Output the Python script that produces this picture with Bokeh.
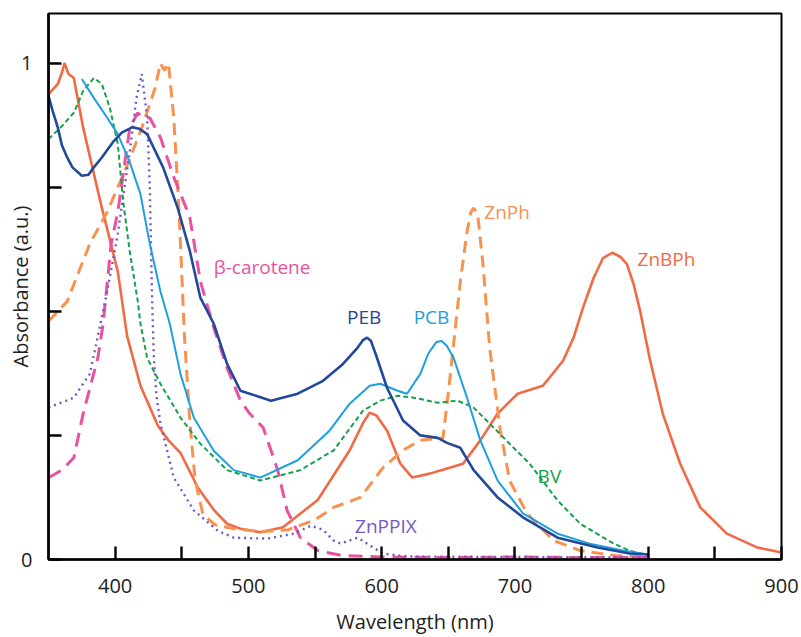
from bokeh.plotting import figure
from bokeh.models import Range1d, FixedTicker, Label
from bokeh.embed import file_html
from bokeh.resources import INLINE

# ---------------- data ----------------
znbph_x = [350, 357, 360, 362, 365, 369, 376, 389, 402, 409, 419, 432, 440, 449, 462, 474, 484, 494,
           509, 526, 552, 576, 586, 591, 596, 604, 614, 623, 636, 651, 661, 674, 687, 702, 721, 736,
           744, 751, 759, 766, 773, 779, 784, 789, 794, 801, 811, 824, 839, 859, 882, 900]
znbph_y = [0.937, 0.958, 0.98, 1.0, 0.978, 0.97, 0.87, 0.72, 0.58, 0.45, 0.35, 0.27, 0.24, 0.215,
           0.145, 0.1, 0.072, 0.062, 0.055, 0.065, 0.12, 0.22, 0.275, 0.296, 0.29, 0.26, 0.193,
           0.165, 0.173, 0.185, 0.193, 0.24, 0.294, 0.334, 0.35, 0.40, 0.447, 0.507, 0.567, 0.607,
           0.618, 0.61, 0.595, 0.555, 0.50, 0.406, 0.293, 0.193, 0.105, 0.052, 0.024, 0.014]

znph_x = [350, 364, 381, 394, 410, 420, 430, 434, 437, 440, 444, 448, 452, 456, 460, 466, 475, 489,
          510, 530, 550, 564, 584, 601, 616, 629, 646, 651, 659, 664, 667, 669, 672, 676, 681, 689,
          696, 709, 729, 749, 775, 800]
znph_y = [0.48, 0.52, 0.636, 0.70, 0.80, 0.87, 0.95, 1.0, 0.985, 1.0, 0.89, 0.70, 0.45, 0.28, 0.16,
          0.09, 0.07, 0.062, 0.056, 0.06, 0.08, 0.105, 0.125, 0.185, 0.22, 0.24, 0.245, 0.36, 0.56,
          0.66, 0.70, 0.708, 0.696, 0.595, 0.427, 0.26, 0.159, 0.093, 0.038, 0.018, 0.008, 0.005]

carotene_x = [350, 360, 369, 376, 387, 391, 397, 402, 411, 417, 421, 426, 434, 444, 456, 464, 474,
              484, 494, 501, 511, 522, 529, 539, 552, 570, 600, 650, 700, 750, 800]
carotene_y = [0.165, 0.18, 0.205, 0.294, 0.406, 0.475, 0.636, 0.70, 0.87, 0.90, 0.89, 0.89, 0.85,
              0.77, 0.69, 0.56, 0.467, 0.386, 0.32, 0.294, 0.266, 0.18, 0.099, 0.044, 0.018, 0.008,
              0.005, 0.004, 0.005, 0.004, 0.004]

znppix_x = [350, 369, 381, 389, 394, 402, 411, 416, 420, 424, 426, 427.5, 429, 431, 434, 444, 459,
            477, 489, 514, 534, 547, 556, 564, 569, 582, 589, 601, 620, 700, 800]
znppix_y = [0.306, 0.326, 0.374, 0.475, 0.54, 0.656, 0.823, 0.93, 0.978, 0.89, 0.75, 0.55, 0.41,
            0.33, 0.274, 0.165, 0.099, 0.058, 0.044, 0.042, 0.052, 0.068, 0.06, 0.038, 0.032, 0.044,
            0.032, 0.012, 0.006, 0.005, 0.004]

bv_x = [350, 359, 369, 376, 384, 390, 396, 402, 406, 411, 417, 419, 424, 434, 449, 464, 484, 509,
        539, 564, 586, 599, 612, 624, 642, 657, 669, 681, 699, 711, 732, 749, 774, 786, 800]
bv_y = [0.847, 0.87, 0.90, 0.944, 0.97, 0.958, 0.91, 0.837, 0.722, 0.62, 0.52, 0.475, 0.406, 0.354,
        0.286, 0.233, 0.18, 0.159, 0.18, 0.22, 0.30, 0.32, 0.33, 0.326, 0.316, 0.32, 0.306, 0.274,
        0.225, 0.193, 0.119, 0.072, 0.032, 0.018, 0.008]

pcb_x = [375, 384, 394, 402, 411, 419, 426, 434, 441, 449, 459, 474, 489, 509, 537, 561, 576, 591,
         599, 612, 619, 629, 635, 641, 645, 649, 654, 664, 674, 687, 706, 732, 756, 781, 800]
pcb_y = [0.968, 0.93, 0.89, 0.857, 0.80, 0.736, 0.636, 0.54, 0.475, 0.374, 0.286, 0.219, 0.18,
         0.165, 0.2, 0.26, 0.314, 0.35, 0.354, 0.34, 0.334, 0.374, 0.415, 0.438, 0.44, 0.43, 0.406,
         0.326, 0.24, 0.159, 0.093, 0.052, 0.032, 0.018, 0.01]

peb_x = [350, 353, 357, 360, 364, 368, 375, 380, 384, 390, 399, 405, 413, 418, 424, 436, 447, 456,
         464, 474, 484, 494, 501, 517, 537, 556, 571, 582, 586, 589, 592, 596, 604, 616, 629, 642,
         649, 659, 669, 687, 706, 732, 762, 786, 800]
peb_y = [0.934, 0.905, 0.87, 0.835, 0.81, 0.79, 0.773, 0.775, 0.79, 0.81, 0.843, 0.86, 0.871, 0.868,
         0.857, 0.79, 0.708, 0.622, 0.527, 0.475, 0.394, 0.34, 0.334, 0.32, 0.334, 0.36, 0.394,
         0.427, 0.442, 0.447, 0.44, 0.41, 0.346, 0.28, 0.25, 0.245, 0.235, 0.225, 0.18, 0.125,
         0.085, 0.044, 0.024, 0.012, 0.01]

x_ticks = [400, 500, 600, 700, 800, 900]
x_minor = [450, 550, 650, 750, 850]
y_ticks = [0, 1]
y_minor = [0.25, 0.5, 0.75]

series_names = ["ZnBPh", "ZnPh", "β-carotene", "ZnPPIX", "BV", "PCB", "PEB"]
label_x = [792, 677, 474, 580, 717, 624, 574]
label_y = [0.606, 0.70, 0.59, 0.068, 0.169, 0.489, 0.489]

# ---------------- styling ----------------
C_ZNBPH = "#f26a45"
C_ZNPH = "#f7924f"
C_CAR = "#e9529e"
C_PPIX = "#7557c4"
C_BV = "#17a04c"
C_PCB = "#1ea0e0"
C_PEB = "#22489b"
FONT = "Open Sans"

p = figure(width=801, height=637, output_backend="svg", toolbar_location=None,
           x_range=Range1d(350, 900), y_range=Range1d(0, 1.1),
           min_border_left=48, min_border_right=20, min_border_top=13, min_border_bottom=78)
p.background_fill_color = "white"
p.border_fill_color = "white"
p.outline_line_color = "black"
p.outline_line_width = 2
p.grid.visible = False

p.line(znbph_x, znbph_y, line_color=C_ZNBPH, line_width=2.6)
p.line(znph_x, znph_y, line_color=C_ZNPH, line_width=3, line_dash="12 7")
p.line(carotene_x, carotene_y, line_color=C_CAR, line_width=3, line_dash="14 8")
p.line(znppix_x, znppix_y, line_color=C_PPIX, line_width=2.4, line_dash="2 4")
p.line(bv_x, bv_y, line_color=C_BV, line_width=2, line_dash="5 3")
p.line(pcb_x, pcb_y, line_color=C_PCB, line_width=2)
p.line(peb_x, peb_y, line_color=C_PEB, line_width=2.6)

colors = [C_ZNBPH, C_ZNPH, C_CAR, C_PPIX, C_BV, C_PCB, C_PEB]
for name, lx, ly, c in zip(series_names, label_x, label_y, colors):
    p.add_layout(Label(x=lx, y=ly, text=name, text_color=c, text_font=FONT,
                       text_font_size="19px", text_align="left", text_baseline="middle"))

for ax, ticks, minor in ((p.xaxis[0], x_ticks, x_minor), (p.yaxis[0], y_ticks, y_minor)):
    ax.ticker = FixedTicker(ticks=ticks, minor_ticks=minor)
    ax.axis_line_width = 2.6
    ax.axis_line_color = "black"
    ax.major_tick_in = 13
    ax.major_tick_out = 0
    ax.minor_tick_in = 13
    ax.minor_tick_out = 0
    ax.major_tick_line_width = 2.4
    ax.minor_tick_line_width = 2.4
    ax.major_tick_line_color = "black"
    ax.minor_tick_line_color = "black"
    ax.major_label_text_font = FONT
    ax.major_label_text_font_size = "20px"
    ax.major_label_text_color = "#222222"
    ax.axis_label_text_font = FONT
    ax.axis_label_text_font_size = "20px"
    ax.axis_label_text_font_style = "normal"
    ax.axis_label_text_color = "#222222"

p.xaxis[0].axis_label = "Wavelength (nm)"
p.xaxis[0].major_label_standoff = 19
p.xaxis[0].axis_label_standoff = 12
p.yaxis[0].axis_label = "Absorbance (a.u.)"
p.yaxis[0].major_label_standoff = 16
p.yaxis[0].axis_label_standoff = -16

open("out.html", "w").write(file_html(p, INLINE))
